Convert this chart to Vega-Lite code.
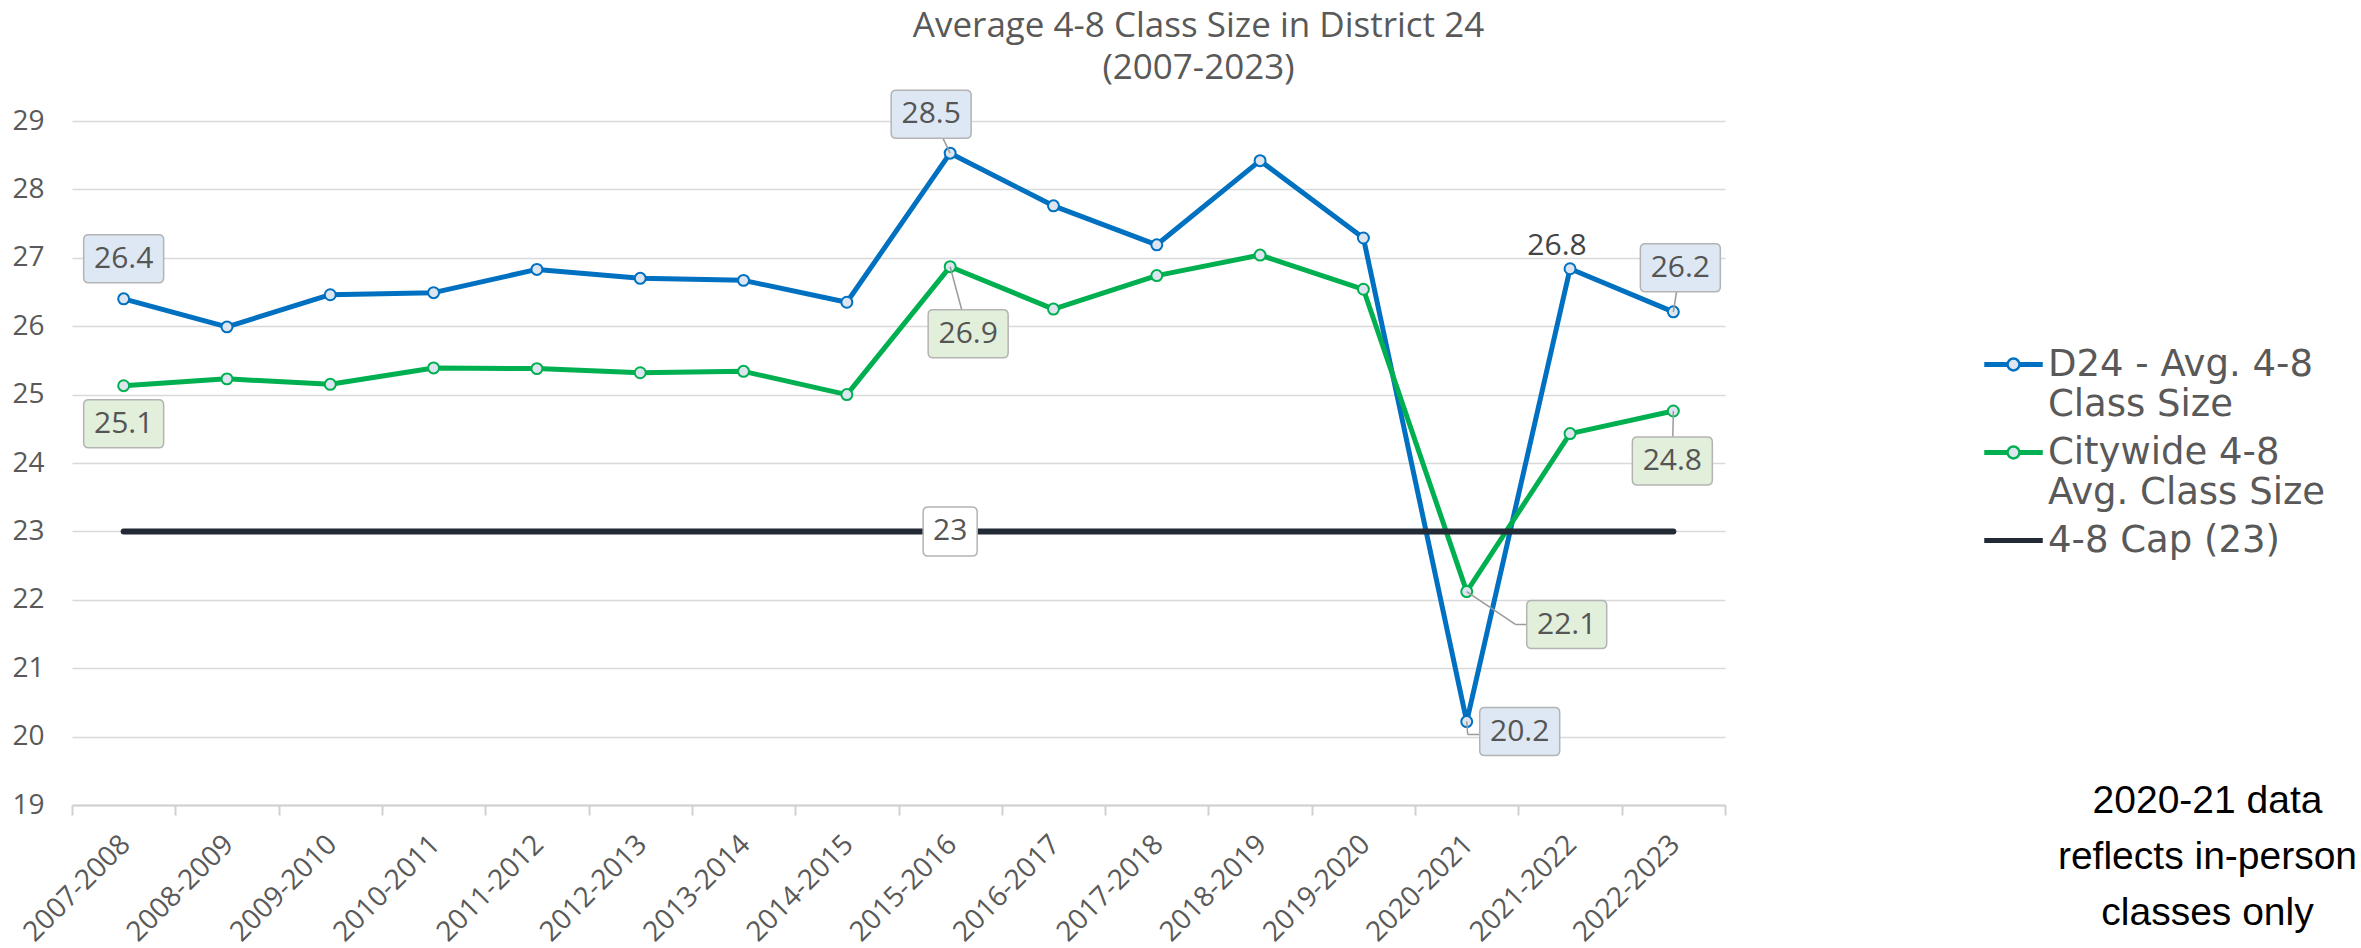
{
  "$schema": "https://vega.github.io/schema/vega-lite/v6.json",
  "width": 1653,
  "height": 684,
  "autosize": "none",
  "padding": {"left": 72, "top": 121, "right": 636, "bottom": 143},
  "background": "white",
  "title": {
    "text": ["Average 4-8 Class Size in District 24", "(2007-2023)"],
    "font": "Open Sans", "fontSize": 35, "fontWeight": "normal", "color": "#595959",
    "anchor": "middle", "dx": 300, "offset": 1, "lineHeight": 42
  },
  "config": {
    "view": {"stroke": null},
    "style": {"guide-label": {"lineHeight": 40}}
  },
  "data": {"values": [
    {"year": "2007-2008", "series": "D24 - Avg. 4-8 Class Size", "value": 26.40},
    {"year": "2008-2009", "series": "D24 - Avg. 4-8 Class Size", "value": 25.99},
    {"year": "2009-2010", "series": "D24 - Avg. 4-8 Class Size", "value": 26.46},
    {"year": "2010-2011", "series": "D24 - Avg. 4-8 Class Size", "value": 26.49},
    {"year": "2011-2012", "series": "D24 - Avg. 4-8 Class Size", "value": 26.83},
    {"year": "2012-2013", "series": "D24 - Avg. 4-8 Class Size", "value": 26.70},
    {"year": "2013-2014", "series": "D24 - Avg. 4-8 Class Size", "value": 26.67},
    {"year": "2014-2015", "series": "D24 - Avg. 4-8 Class Size", "value": 26.35},
    {"year": "2015-2016", "series": "D24 - Avg. 4-8 Class Size", "value": 28.53},
    {"year": "2016-2017", "series": "D24 - Avg. 4-8 Class Size", "value": 27.76},
    {"year": "2017-2018", "series": "D24 - Avg. 4-8 Class Size", "value": 27.19},
    {"year": "2018-2019", "series": "D24 - Avg. 4-8 Class Size", "value": 28.42},
    {"year": "2019-2020", "series": "D24 - Avg. 4-8 Class Size", "value": 27.29},
    {"year": "2020-2021", "series": "D24 - Avg. 4-8 Class Size", "value": 20.22},
    {"year": "2021-2022", "series": "D24 - Avg. 4-8 Class Size", "value": 26.84},
    {"year": "2022-2023", "series": "D24 - Avg. 4-8 Class Size", "value": 26.21},
    {"year": "2007-2008", "series": "Citywide 4-8 Avg. Class Size", "value": 25.13},
    {"year": "2008-2009", "series": "Citywide 4-8 Avg. Class Size", "value": 25.23},
    {"year": "2009-2010", "series": "Citywide 4-8 Avg. Class Size", "value": 25.15},
    {"year": "2010-2011", "series": "Citywide 4-8 Avg. Class Size", "value": 25.39},
    {"year": "2011-2012", "series": "Citywide 4-8 Avg. Class Size", "value": 25.38},
    {"year": "2012-2013", "series": "Citywide 4-8 Avg. Class Size", "value": 25.32},
    {"year": "2013-2014", "series": "Citywide 4-8 Avg. Class Size", "value": 25.34},
    {"year": "2014-2015", "series": "Citywide 4-8 Avg. Class Size", "value": 25.00},
    {"year": "2015-2016", "series": "Citywide 4-8 Avg. Class Size", "value": 26.87},
    {"year": "2016-2017", "series": "Citywide 4-8 Avg. Class Size", "value": 26.25},
    {"year": "2017-2018", "series": "Citywide 4-8 Avg. Class Size", "value": 26.74},
    {"year": "2018-2019", "series": "Citywide 4-8 Avg. Class Size", "value": 27.04},
    {"year": "2019-2020", "series": "Citywide 4-8 Avg. Class Size", "value": 26.54},
    {"year": "2020-2021", "series": "Citywide 4-8 Avg. Class Size", "value": 22.12},
    {"year": "2021-2022", "series": "Citywide 4-8 Avg. Class Size", "value": 24.43},
    {"year": "2022-2023", "series": "Citywide 4-8 Avg. Class Size", "value": 24.76},
    {"year": "2007-2008", "series": "4-8 Cap (23)", "value": 23},
    {"year": "2008-2009", "series": "4-8 Cap (23)", "value": 23},
    {"year": "2009-2010", "series": "4-8 Cap (23)", "value": 23},
    {"year": "2010-2011", "series": "4-8 Cap (23)", "value": 23},
    {"year": "2011-2012", "series": "4-8 Cap (23)", "value": 23},
    {"year": "2012-2013", "series": "4-8 Cap (23)", "value": 23},
    {"year": "2013-2014", "series": "4-8 Cap (23)", "value": 23},
    {"year": "2014-2015", "series": "4-8 Cap (23)", "value": 23},
    {"year": "2015-2016", "series": "4-8 Cap (23)", "value": 23},
    {"year": "2016-2017", "series": "4-8 Cap (23)", "value": 23},
    {"year": "2017-2018", "series": "4-8 Cap (23)", "value": 23},
    {"year": "2018-2019", "series": "4-8 Cap (23)", "value": 23},
    {"year": "2019-2020", "series": "4-8 Cap (23)", "value": 23},
    {"year": "2020-2021", "series": "4-8 Cap (23)", "value": 23},
    {"year": "2021-2022", "series": "4-8 Cap (23)", "value": 23},
    {"year": "2022-2023", "series": "4-8 Cap (23)", "value": 23}
  ]},
  "encoding": {
    "x": {
      "field": "year", "type": "ordinal",
      "scale": {"type": "band", "paddingInner": 0, "paddingOuter": 0},
      "axis": {
        "tickBand": "extent", "labelAngle": -45,
        "labelFont": "Open Sans", "labelFontSize": 28, "labelColor": "#595959",
        "labelOffset": -8, "labelPadding": 15,
        "domainColor": "#d0d0d0", "domainWidth": 2, "tickColor": "#d0d0d0", "tickWidth": 2,
        "tickSize": 10, "grid": false,
        "title": ["2020-21 data", "reflects in-person", "classes only"],
        "titleX": 2135, "titleY": -24, "titleAlign": "center", "titleBaseline": "top", "titleAngle": 0,
        "titleFont": "Liberation Sans", "titleFontSize": 39, "titleFontWeight": "normal", "titleColor": "#000000",
        "titleLineHeight": 56, "titleLimit": 1000, "titlePadding": 0
      }
    },
    "y": {
      "field": "value", "type": "quantitative",
      "scale": {"domain": [19, 29], "nice": false, "zero": false},
      "axis": {
        "title": null, "values": [19, 20, 21, 22, 23, 24, 25, 26, 27, 28, 29],
        "grid": true, "gridColor": "#d9d9d9", "gridWidth": 1.5,
        "domain": false, "ticks": false,
        "labelFont": "Open Sans", "labelFontSize": 28, "labelColor": "#595959", "labelPadding": 28
      }
    }
  },
  "layer": [
    {
      "transform": [{"filter": "datum.series == 'D24 - Avg. 4-8 Class Size'"}],
      "mark": {"type": "line", "color": "#0070c0", "strokeWidth": 5, "strokeCap": "round", "strokeJoin": "round"}
    },
    {
      "transform": [{"filter": "datum.series == 'Citywide 4-8 Avg. Class Size'"}],
      "mark": {"type": "line", "color": "#00b050", "strokeWidth": 5, "strokeCap": "round", "strokeJoin": "round"}
    },
    {
      "transform": [{"filter": "datum.series == '4-8 Cap (23)'"}],
      "mark": {"type": "line", "color": "#222a35", "strokeWidth": 6, "strokeCap": "round"}
    },
    {
      "transform": [{"filter": "datum.series == 'D24 - Avg. 4-8 Class Size'"}],
      "mark": {"type": "point", "shape": "circle", "filled": true, "fill": "#dde6f0", "stroke": "#0070c0", "size": 120, "strokeWidth": 2, "opacity": 1}
    },
    {
      "transform": [{"filter": "datum.series == 'Citywide 4-8 Avg. Class Size'"}],
      "mark": {"type": "point", "shape": "circle", "filled": true, "fill": "#dde6f0", "stroke": "#00b050", "size": 120, "strokeWidth": 2, "opacity": 1}
    },
    {
      "transform": [{"filter": "false"}],
      "mark": {"type": "point", "filled": false, "fill": "#dde6f0", "strokeWidth": 2.5, "opacity": 1},
      "encoding": {
        "color": {"field": "series", "type": "nominal",
          "scale": {"domain": ["D24 - Avg. 4-8 Class Size", "Citywide 4-8 Avg. Class Size", "4-8 Cap (23)"], "range": ["#0070c0", "#00b050", "#222a35"]},
          "legend": {
            "orient": "none", "legendX": 1912, "legendY": 214, "direction": "vertical", "title": null,
            "labelFont": "DejaVu Sans", "labelFontSize": 37, "labelColor": "#595959", "labelLimit": 1000, "labelOffset": 5,
            "labelExpr": "datum.label == 'D24 - Avg. 4-8 Class Size' ? ['D24 - Avg. 4-8', 'Class Size'] : datum.label == 'Citywide 4-8 Avg. Class Size' ? ['Citywide 4-8', 'Avg. Class Size'] : datum.label",
            "symbolSize": 3136, "symbolStrokeWidth": 2.5, "rowPadding": 0, "padding": 0
          }},
        "shape": {"field": "series", "type": "nominal",
          "scale": {"domain": ["D24 - Avg. 4-8 Class Size", "Citywide 4-8 Avg. Class Size", "4-8 Cap (23)"],
            "range": [
              "M-1,-0.045L-0.214,-0.045L-0.214,0.045L-1,0.045Z M0.214,-0.045L1,-0.045L1,0.045L0.214,0.045Z M0.214,0C0.214,0.118 0.118,0.214 0,0.214C-0.118,0.214 -0.214,0.118 -0.214,0C-0.214,-0.118 -0.118,-0.214 0,-0.214C0.118,-0.214 0.214,-0.118 0.214,0Z",
              "M-1,-0.045L-0.214,-0.045L-0.214,0.045L-1,0.045Z M0.214,-0.045L1,-0.045L1,0.045L0.214,0.045Z M0.214,0C0.214,0.118 0.118,0.214 0,0.214C-0.118,0.214 -0.214,0.118 -0.214,0C-0.214,-0.118 -0.118,-0.214 0,-0.214C0.118,-0.214 0.214,-0.118 0.214,0Z",
              "M-1,-0.045L1,-0.045L1,0.045L-1,0.045Z"
            ]},
          "legend": {
            "orient": "none", "legendX": 1912, "legendY": 214, "direction": "vertical", "title": null,
            "labelFont": "DejaVu Sans", "labelFontSize": 37, "labelColor": "#595959", "labelLimit": 1000, "labelOffset": 5,
            "labelExpr": "datum.label == 'D24 - Avg. 4-8 Class Size' ? ['D24 - Avg. 4-8', 'Class Size'] : datum.label == 'Citywide 4-8 Avg. Class Size' ? ['Citywide 4-8', 'Avg. Class Size'] : datum.label",
            "symbolSize": 3136, "symbolStrokeWidth": 2.5, "rowPadding": 0, "padding": 0
          }}
      }
    },
    {
      "transform": [{"filter": "datum.series == 'D24 - Avg. 4-8 Class Size' && datum.year == '2007-2008'"}],
      "layer": [
        {"mark": {"type": "point", "shape": "M-0.875,-0.6L0.875,-0.6Q1,-0.6 1,-0.475L1,0.475Q1,0.6 0.875,0.6L-0.875,0.6Q-1,0.6 -1,0.475L-1,-0.475Q-1,-0.6 -0.875,-0.6Z", "size": 6400, "filled": true, "fill": "#dde8f4", "stroke": "#b4b4b4", "strokeWidth": 1.5, "opacity": 1, "yOffset": -40}},
        {"mark": {"type": "text", "font": "Open Sans", "fontSize": 30, "color": "#555555", "dy": -40}, "encoding": {"text": {"field": "value", "format": ".1f"}}}
      ]
    },
    {
      "transform": [{"filter": "datum.series == 'D24 - Avg. 4-8 Class Size' && datum.year == '2015-2016'"}],
      "layer": [
        {"mark": {"type": "rule", "color": "#9a9a9a", "strokeWidth": 1.5, "x2Offset": -19, "y2Offset": -39}, "encoding": {"x2": {"field": "year"}, "y2": {"field": "value"}}},
        {"mark": {"type": "point", "shape": "M-0.875,-0.6L0.875,-0.6Q1,-0.6 1,-0.475L1,0.475Q1,0.6 0.875,0.6L-0.875,0.6Q-1,0.6 -1,0.475L-1,-0.475Q-1,-0.6 -0.875,-0.6Z", "size": 6400, "filled": true, "fill": "#dde8f4", "stroke": "#b4b4b4", "strokeWidth": 1.5, "opacity": 1, "xOffset": -19, "yOffset": -39}},
        {"mark": {"type": "text", "font": "Open Sans", "fontSize": 30, "color": "#555555", "dx": -19, "dy": -39}, "encoding": {"text": {"field": "value", "format": ".1f"}}}
      ]
    },
    {
      "transform": [{"filter": "datum.series == 'D24 - Avg. 4-8 Class Size' && datum.year == '2021-2022'"}],
      "mark": {"type": "text", "font": "Open Sans", "fontSize": 30, "color": "#444444", "dx": -13, "dy": -23},
      "encoding": {"text": {"field": "value", "format": ".1f"}}
    },
    {
      "transform": [{"filter": "datum.series == 'D24 - Avg. 4-8 Class Size' && datum.year == '2022-2023'"}],
      "layer": [
        {"mark": {"type": "rule", "color": "#9a9a9a", "strokeWidth": 1.5, "x2Offset": 7, "y2Offset": -44}, "encoding": {"x2": {"field": "year"}, "y2": {"field": "value"}}},
        {"mark": {"type": "point", "shape": "M-0.875,-0.6L0.875,-0.6Q1,-0.6 1,-0.475L1,0.475Q1,0.6 0.875,0.6L-0.875,0.6Q-1,0.6 -1,0.475L-1,-0.475Q-1,-0.6 -0.875,-0.6Z", "size": 6400, "filled": true, "fill": "#dde8f4", "stroke": "#b4b4b4", "strokeWidth": 1.5, "opacity": 1, "xOffset": 7, "yOffset": -44}},
        {"mark": {"type": "text", "font": "Open Sans", "fontSize": 30, "color": "#555555", "dx": 7, "dy": -44}, "encoding": {"text": {"field": "value", "format": ".1f"}}}
      ]
    },
    {
      "transform": [{"filter": "datum.series == 'D24 - Avg. 4-8 Class Size' && datum.year == '2020-2021'"}],
      "layer": [
        {"mark": {"type": "rule", "color": "#9a9a9a", "strokeWidth": 1.5, "x2Offset": 1, "y2Offset": 13}, "encoding": {"x2": {"field": "year"}, "y2": {"field": "value"}}},
        {"mark": {"type": "rule", "color": "#9a9a9a", "strokeWidth": 1.5, "xOffset": 1, "yOffset": 13, "x2Offset": 53, "y2Offset": 13}, "encoding": {"x2": {"field": "year"}, "y2": {"field": "value"}}},
        {"mark": {"type": "point", "shape": "M-0.875,-0.6L0.875,-0.6Q1,-0.6 1,-0.475L1,0.475Q1,0.6 0.875,0.6L-0.875,0.6Q-1,0.6 -1,0.475L-1,-0.475Q-1,-0.6 -0.875,-0.6Z", "size": 6400, "filled": true, "fill": "#dde8f4", "stroke": "#b4b4b4", "strokeWidth": 1.5, "opacity": 1, "xOffset": 53, "yOffset": 10}},
        {"mark": {"type": "text", "font": "Open Sans", "fontSize": 30, "color": "#555555", "dx": 53, "dy": 10}, "encoding": {"text": {"field": "value", "format": ".1f"}}}
      ]
    },
    {
      "transform": [{"filter": "datum.series == 'Citywide 4-8 Avg. Class Size' && datum.year == '2007-2008'"}],
      "layer": [
        {"mark": {"type": "point", "shape": "M-0.875,-0.6L0.875,-0.6Q1,-0.6 1,-0.475L1,0.475Q1,0.6 0.875,0.6L-0.875,0.6Q-1,0.6 -1,0.475L-1,-0.475Q-1,-0.6 -0.875,-0.6Z", "size": 6400, "filled": true, "fill": "#e2efda", "stroke": "#b4b4b4", "strokeWidth": 1.5, "opacity": 1, "yOffset": 38}},
        {"mark": {"type": "text", "font": "Open Sans", "fontSize": 30, "color": "#555555", "dy": 38}, "encoding": {"text": {"field": "value", "format": ".1f"}}}
      ]
    },
    {
      "transform": [{"filter": "datum.series == 'Citywide 4-8 Avg. Class Size' && datum.year == '2015-2016'"}],
      "layer": [
        {"mark": {"type": "rule", "color": "#9a9a9a", "strokeWidth": 1.5, "x2Offset": 18, "y2Offset": 67}, "encoding": {"x2": {"field": "year"}, "y2": {"field": "value"}}},
        {"mark": {"type": "point", "shape": "M-0.875,-0.6L0.875,-0.6Q1,-0.6 1,-0.475L1,0.475Q1,0.6 0.875,0.6L-0.875,0.6Q-1,0.6 -1,0.475L-1,-0.475Q-1,-0.6 -0.875,-0.6Z", "size": 6400, "filled": true, "fill": "#e2efda", "stroke": "#b4b4b4", "strokeWidth": 1.5, "opacity": 1, "xOffset": 18, "yOffset": 67}},
        {"mark": {"type": "text", "font": "Open Sans", "fontSize": 30, "color": "#555555", "dx": 18, "dy": 67}, "encoding": {"text": {"field": "value", "format": ".1f"}}}
      ]
    },
    {
      "transform": [{"filter": "datum.series == 'Citywide 4-8 Avg. Class Size' && datum.year == '2020-2021'"}],
      "layer": [
        {"mark": {"type": "rule", "color": "#9a9a9a", "strokeWidth": 1.5, "x2Offset": 49, "y2Offset": 33}, "encoding": {"x2": {"field": "year"}, "y2": {"field": "value"}}},
        {"mark": {"type": "rule", "color": "#9a9a9a", "strokeWidth": 1.5, "xOffset": 49, "yOffset": 33, "x2Offset": 100, "y2Offset": 33}, "encoding": {"x2": {"field": "year"}, "y2": {"field": "value"}}},
        {"mark": {"type": "point", "shape": "M-0.875,-0.6L0.875,-0.6Q1,-0.6 1,-0.475L1,0.475Q1,0.6 0.875,0.6L-0.875,0.6Q-1,0.6 -1,0.475L-1,-0.475Q-1,-0.6 -0.875,-0.6Z", "size": 6400, "filled": true, "fill": "#e2efda", "stroke": "#b4b4b4", "strokeWidth": 1.5, "opacity": 1, "xOffset": 100, "yOffset": 33}},
        {"mark": {"type": "text", "font": "Open Sans", "fontSize": 30, "color": "#555555", "dx": 100, "dy": 33}, "encoding": {"text": {"field": "value", "format": ".1f"}}}
      ]
    },
    {
      "transform": [{"filter": "datum.series == 'Citywide 4-8 Avg. Class Size' && datum.year == '2022-2023'"}],
      "layer": [
        {"mark": {"type": "rule", "color": "#9a9a9a", "strokeWidth": 1.5, "x2Offset": -1, "y2Offset": 50}, "encoding": {"x2": {"field": "year"}, "y2": {"field": "value"}}},
        {"mark": {"type": "point", "shape": "M-0.875,-0.6L0.875,-0.6Q1,-0.6 1,-0.475L1,0.475Q1,0.6 0.875,0.6L-0.875,0.6Q-1,0.6 -1,0.475L-1,-0.475Q-1,-0.6 -0.875,-0.6Z", "size": 6400, "filled": true, "fill": "#e2efda", "stroke": "#b4b4b4", "strokeWidth": 1.5, "opacity": 1, "xOffset": -1, "yOffset": 50}},
        {"mark": {"type": "text", "font": "Open Sans", "fontSize": 30, "color": "#555555", "dx": -1, "dy": 50}, "encoding": {"text": {"field": "value", "format": ".1f"}}}
      ]
    },
    {
      "transform": [{"filter": "datum.series == '4-8 Cap (23)' && datum.year == '2015-2016'"}],
      "layer": [
        {"mark": {"type": "point", "shape": "M-0.815,-0.907L0.815,-0.907Q1,-0.907 1,-0.722L1,0.722Q1,0.907 0.815,0.907L-0.815,0.907Q-1,0.907 -1,0.722L-1,-0.722Q-1,-0.907 -0.815,-0.907Z", "size": 2916, "filled": true, "fill": "#ffffff", "stroke": "#b4b4b4", "strokeWidth": 1.5, "opacity": 1}},
        {"mark": {"type": "text", "font": "Open Sans", "fontSize": 30, "color": "#555555"}, "encoding": {"text": {"field": "value", "format": "d"}}}
      ]
    }
  ]
}
